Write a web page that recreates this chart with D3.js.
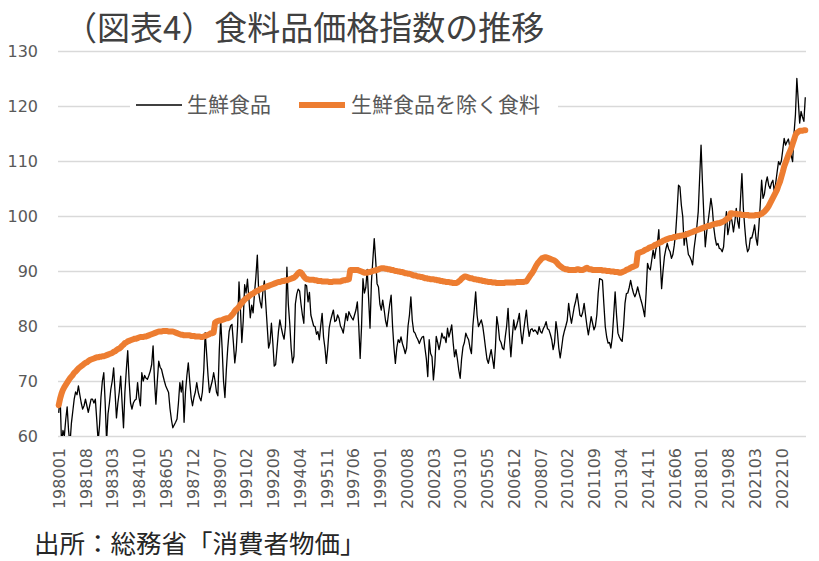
<!DOCTYPE html>
<html>
<head>
<meta charset="utf-8">
<script src="https://cdn.jsdelivr.net/npm/d3@7"></script>
<style>
  body { margin: 0; background: #fff; }
  svg { display: block; }
</style>
</head>
<body>
<svg id="chart" width="819" height="561"></svg>
<script>

// series values, one row per year (Jan..Dec), 1980-01 .. 2024-03
const freshFood = [
  64.2, 67.5, 58.5, 61, 60, 63, 65.3, 61, 58.5, 62.3, 64.5, 66.7,
  68, 67.5, 69.1, 67.5, 66, 64.9, 65.5, 66.7, 65.5, 64.3, 65.5, 66.7,
  66.7, 66, 66.7, 63, 59, 62, 67, 70, 71.5, 66, 59, 64,
  66, 68.5, 70, 72.4, 68, 63.3, 66, 68, 70.9, 66, 61.5, 68,
  72, 75.5, 70, 66, 64.9, 66, 66.5, 66.7, 69.7, 67, 65.5, 71.5,
  70, 71, 70.5, 70.3, 71, 71.8, 73, 76.4, 70, 65.8, 70, 73.6,
  72.5, 72.1, 71, 70, 69.1, 68.5, 67.9, 65, 63, 61.5, 62, 62.5,
  63.1, 66, 69.7, 68, 70, 62.5, 68, 71, 73.3, 70, 67, 65.5,
  67, 68, 69.7, 68, 67, 66.4, 68, 72, 78.8, 75, 71, 67.9,
  69, 70, 71.5, 70, 68, 67.3, 75.6, 81.2, 76, 70, 67, 72,
  76, 79, 80, 80.3, 77, 73.3, 75.6, 80, 88, 83, 77, 81,
  87.5, 86, 88.5, 85, 81.5, 83.8, 82.4, 86, 89, 92.9, 86, 84.4,
  83.3, 86.5, 88.2, 84, 80, 76, 77, 80.5, 77, 72.7, 73, 76,
  79, 81.1, 79.7, 78.5, 77.6, 80, 90.7, 84, 80.5, 76, 73.3, 74.5,
  84, 85.8, 86.7, 86.4, 84, 82, 80.5, 87.5, 87.3, 84.4, 86.1, 82,
  81, 80, 79.9, 78.5, 79, 77.5, 80, 82.3, 78, 76, 73.2, 76,
  79.6, 81, 82, 82.9, 80.8, 81, 82, 81.4, 80, 79.5, 78.7, 80.5,
  82.3, 81, 82.6, 82, 81.5, 81.1, 82, 82.9, 84.4, 80, 74.1, 80,
  88.6, 86, 87, 90.3, 85, 79.6, 88, 92, 95.9, 92, 87.7, 87.1,
  84, 82.9, 84.7, 83, 81, 79.9, 82, 84, 85.6, 80, 76, 73.2,
  76, 77.5, 77, 78, 76.8, 76, 75, 76, 80, 82, 85.3, 81,
  79, 78.7, 78, 77.5, 76.8, 77.5, 78, 78.1, 76, 74, 70.8, 77.5,
  75, 74.4, 70.2, 73, 78.1, 77, 75.7, 77, 78.7, 77.8, 78, 77,
  79.6, 78, 79, 80.2, 77, 74.4, 75.7, 74, 72, 70.5, 74, 76.2,
  77, 78.7, 78, 77.5, 76, 75, 80, 83, 86.2, 82, 79.9, 80.5,
  81.1, 80, 78.1, 76, 74, 73.2, 74.5, 75.7, 74, 72.3, 76, 81.7,
  80, 77.5, 77, 76, 75.7, 78, 80, 83.2, 78, 74.4, 78, 81.1,
  79.3, 80, 81, 82.3, 79, 76.8, 79, 81, 82.9, 80, 78.1, 79.3,
  79.5, 79, 79.3, 79, 78.5, 79.9, 79, 78.7, 79.5, 80, 80.8, 79.5,
  79.3, 78.5, 77.5, 75.7, 77, 80.8, 79, 76, 74.2, 76, 78, 79.1,
  80, 81, 84.1, 82, 80.5, 82, 83.5, 84.5, 85.9, 84, 82, 81.7,
  82.5, 84.1, 82, 80, 78.4, 80, 81.7, 80.5, 79.3, 80, 82, 86,
  88.6, 88.5, 88.3, 84, 79.9, 78, 76.9, 77, 76, 78, 82, 86.2,
  82, 78.7, 78, 77.5, 77.2, 80, 84.1, 85.9, 86, 87, 88.3, 87,
  86, 85.3, 86, 87.1, 86, 85, 84.1, 83, 81.7, 86, 91.4, 90.5,
  90.2, 92, 93.8, 92.3, 94, 95, 97.5, 92, 86.8, 90, 92.6, 94,
  95, 94, 93.5, 92.3, 93, 94.7, 97, 101, 105.6, 105.3, 102, 99.9,
  94.7, 97.1, 95, 93, 92.6, 92, 91.1, 94, 96, 98, 100.8, 106.9,
  112.9, 106, 100, 94.4, 97.1, 99, 101, 103.2, 101.4, 98, 96, 94.7,
  95, 94.1, 94, 93.5, 94.4, 98, 100.8, 96.6, 98, 100.2, 99, 97.1,
  99, 101.4, 99, 97.8, 103, 107.7, 101.4, 98, 95, 93.5, 94, 96,
  96, 97, 98.4, 96, 94.7, 98, 102, 106.5, 103.2, 104, 106, 107.1,
  105.6, 105, 106, 106.5, 104.4, 106, 108, 109.9, 109.3, 110, 112, 114.1,
  112.9, 113.5, 114, 112.6, 111, 109.9, 115, 118.4, 125, 121, 116.9, 119,
  118, 117.2, 121.6
];

const foodExFresh = [
  65.6, 66.8, 67.7, 68.4, 68.9, 69.3, 69.7, 70.1, 70.5, 70.8, 71.1, 71.5,
  71.7, 72.0, 72.3, 72.5, 72.7, 72.9, 73.1, 73.3, 73.4, 73.6, 73.8, 73.9,
  74.0, 74.1, 74.2, 74.3, 74.3, 74.4, 74.4, 74.5, 74.5, 74.6, 74.7, 74.8,
  74.9, 75.0, 75.1, 75.3, 75.4, 75.6, 75.8, 75.9, 76.1, 76.4, 76.6, 76.9,
  77.0, 77.2, 77.3, 77.4, 77.5, 77.6, 77.7, 77.7, 77.8, 77.9, 78.0, 78.0,
  78.0, 78.1, 78.1, 78.2, 78.3, 78.4, 78.5, 78.6, 78.7, 78.8, 78.9, 79.0,
  79.0, 79.0, 79.1, 79.1, 79.1, 79.1, 79.0, 79.0, 79.0, 79.0, 78.9, 78.8,
  78.7, 78.6, 78.5, 78.4, 78.4, 78.3, 78.3, 78.3, 78.3, 78.3, 78.2, 78.2,
  78.2, 78.1, 78.1, 78.1, 78.1, 78.0, 78.0, 78.1, 78.2, 78.3, 78.4, 78.5,
  78.7, 78.7, 78.8, 80.6, 80.8, 80.9, 81.0, 81.0, 81.1, 81.2, 81.3, 81.4,
  81.4, 81.5, 81.7, 82.0, 82.3, 82.7, 83.0, 83.2, 83.5, 83.9, 84.2, 84.5,
  84.8, 85.0, 85.2, 85.4, 85.6, 85.8, 85.9, 86.1, 86.3, 86.4, 86.5, 86.7,
  86.8, 86.9, 87.0, 87.1, 87.2, 87.3, 87.4, 87.5, 87.6, 87.7, 87.8, 87.9,
  88.0, 88.0, 88.1, 88.2, 88.2, 88.3, 88.3, 88.4, 88.5, 88.6, 88.7, 88.8,
  89.0, 89.3, 89.6, 89.8, 89.7, 89.4, 89.0, 88.7, 88.5, 88.5, 88.4, 88.4,
  88.4, 88.4, 88.3, 88.3, 88.2, 88.2, 88.2, 88.1, 88.1, 88.1, 88.1, 88.1,
  88.0, 88.0, 88.0, 88.1, 88.1, 88.1, 88.1, 88.1, 88.1, 88.2, 88.3, 88.3,
  88.4, 88.4, 88.5, 90.2, 90.2, 90.2, 90.2, 90.2, 90.2, 90.1, 90.0, 89.9,
  89.8, 89.7, 89.7, 89.7, 89.8, 89.8, 89.9, 90.0, 90.1, 90.1, 90.2, 90.3,
  90.4, 90.5, 90.5, 90.5, 90.4, 90.4, 90.3, 90.3, 90.2, 90.2, 90.1, 90.0,
  90.0, 89.9, 89.9, 89.8, 89.8, 89.7, 89.6, 89.6, 89.5, 89.5, 89.4, 89.3,
  89.2, 89.2, 89.1, 89.0, 89.0, 88.9, 88.9, 88.8, 88.7, 88.7, 88.6, 88.6,
  88.5, 88.5, 88.5, 88.4, 88.4, 88.3, 88.3, 88.2, 88.2, 88.1, 88.1, 88.0,
  88.0, 88.0, 87.9, 87.9, 87.8, 87.8, 87.8, 87.9, 88.1, 88.3, 88.6, 88.8,
  89.0, 89.0, 88.9, 88.8, 88.7, 88.7, 88.6, 88.5, 88.5, 88.4, 88.4, 88.3,
  88.3, 88.2, 88.2, 88.1, 88.1, 88.0, 88.0, 88.0, 87.9, 87.9, 87.9, 87.8,
  87.8, 87.8, 87.8, 87.8, 87.8, 87.9, 87.9, 87.9, 87.9, 87.9, 87.9, 87.9,
  87.9, 88.0, 88.0, 88.0, 88.0, 88.0, 88.0, 88.1, 88.1, 88.5, 88.9, 89.3,
  89.6, 90.0, 90.5, 91.0, 91.4, 91.7, 92.0, 92.3, 92.4, 92.5, 92.5, 92.4,
  92.3, 92.2, 92.1, 92.0, 91.9, 91.7, 91.4, 91.1, 90.9, 90.7, 90.5, 90.4,
  90.3, 90.3, 90.2, 90.2, 90.2, 90.2, 90.2, 90.2, 90.3, 90.3, 90.2, 90.2,
  90.2, 90.3, 90.5, 90.6, 90.4, 90.3, 90.3, 90.2, 90.2, 90.2, 90.2, 90.2,
  90.2, 90.2, 90.1, 90.1, 90.1, 90.0, 90.0, 90.0, 89.9, 89.9, 89.9, 89.8,
  89.8, 89.8, 89.7, 89.7, 89.8, 89.9, 90.0, 90.2, 90.3, 90.4, 90.6, 90.7,
  90.8, 90.9, 91.0, 93.2, 93.3, 93.4, 93.5, 93.6, 93.8, 93.9, 94.0, 94.2,
  94.3, 94.4, 94.5, 94.7, 94.8, 94.9, 95.1, 95.2, 95.3, 95.5, 95.6, 95.7,
  95.8, 95.9, 96.0, 96.0, 96.1, 96.2, 96.2, 96.3, 96.3, 96.4, 96.4, 96.5,
  96.5, 96.6, 96.7, 96.8, 96.9, 97.0, 97.1, 97.2, 97.3, 97.4, 97.5, 97.6,
  97.7, 97.8, 97.9, 98.0, 98.1, 98.2, 98.2, 98.3, 98.4, 98.5, 98.6, 98.6,
  98.7, 98.7, 98.8, 98.9, 99.0, 99.2, 99.4, 99.6, 99.7, 100.5, 100.5, 100.4,
  100.4, 100.4, 100.3, 100.3, 100.3, 100.2, 100.2, 100.2, 100.2, 100.2, 100.1, 100.1,
  100.1, 100.1, 100.1, 100.2, 100.2, 100.2, 100.3, 100.4, 100.6, 100.8, 101.1, 101.4,
  101.8, 102.3, 102.8, 103.3, 103.8, 104.3, 104.8, 105.6, 106.2, 107.1, 108.0, 109.0,
  109.7, 110.4, 111.1, 111.7, 112.3, 113.1, 113.9, 114.7, 115.1, 115.3, 115.5, 115.5,
  115.5, 115.6, 115.6
];

const tickLabels = [
  '198001', '198108', '198303', '198410', '198605', '198712', '198907',
  '199102', '199209', '199404', '199511', '199706', '199901', '200008',
  '200203', '200310', '200505', '200612', '200807', '201002', '201109',
  '201304', '201411', '201606', '201801', '201908', '202103', '202210'
];

const yTicks = [60, 70, 80, 90, 100, 110, 120, 130];

const seriesNames = ['生鮮食品', '生鮮食品を除く食料'];

// category list yyyymm, one per value
const months = freshFood.map(function(d, i){
    let yr = 1980 + Math.floor(i / 12);
    let m = (i % 12) + 1;
    return '' + yr + (m < 10 ? '0' + m : m);
});

//#region layout
const plotLeft = 58, plotRight = 806, plotTop = 51, plotBottom = 436;
const gridColor = '#d9d9d9';
const textColor = '#595959';
//#endregion

const svg = d3.select('#chart');

svg.append('rect').attr('width', 819).attr('height', 561).attr('fill', '#fff');

const x = d3.scalePoint().domain(months).range([plotLeft, plotRight]).padding(0.5);
const y = d3.scaleLinear().domain([60, 130]).range([plotBottom, plotTop]);

// gridlines + y labels
const yAxis = svg.append('g')
    .attr('transform', `translate(${plotLeft},0)`)
    .call(d3.axisLeft(y).tickValues(yTicks).tickSize(-(plotRight - plotLeft)).tickPadding(20));
yAxis.select('.domain').remove();
yAxis.selectAll('line').attr('stroke', gridColor).attr('stroke-width', 1.3);
yAxis.selectAll('text')
    .attr('fill', textColor)
    .attr('font-family', 'DejaVu Sans, sans-serif')
    .attr('font-size', '16px');

// x axis (category labels rotated)
const xAxis = svg.append('g')
    .attr('transform', `translate(0,${plotBottom})`)
    .call(d3.axisBottom(x).tickValues(tickLabels).tickSize(0));
xAxis.select('.domain').remove();
xAxis.selectAll('text')
    .attr('transform', 'rotate(-90)')
    .attr('text-anchor', 'end')
    .attr('x', -12)
    .attr('y', 0)
    .attr('dy', '0.36em')
    .attr('fill', textColor)
    .attr('font-family', 'DejaVu Sans, sans-serif')
    .attr('font-size', '16px');

// clip to plot area
svg.append('clipPath').attr('id', 'plotClip')
    .append('rect')
    .attr('x', plotLeft - 5).attr('y', 0)
    .attr('width', plotRight - plotLeft + 10).attr('height', plotBottom);

const line = d3.line()
    .x(function(d, i){ return x(months[i]); })
    .y(function(d){ return y(d); });

svg.append('path')
    .datum(freshFood)
    .attr('clip-path', 'url(#plotClip)')
    .attr('fill', 'none')
    .attr('stroke', '#000')
    .attr('stroke-width', 1.3)
    .attr('stroke-linejoin', 'round')
    .attr('d', line);

svg.append('path')
    .datum(foodExFresh)
    .attr('clip-path', 'url(#plotClip)')
    .attr('fill', 'none')
    .attr('stroke', '#ED7D31')
    .attr('stroke-width', 6)
    .attr('stroke-linejoin', 'round')
    .attr('stroke-linecap', 'round')
    .attr('d', line);

// legend
const legend = svg.append('g');
legend.append('rect')
    .attr('x', 130).attr('y', 92).attr('width', 428).attr('height', 28)
    .attr('fill', '#fff');
legend.append('line')
    .attr('x1', 136).attr('x2', 182).attr('y1', 105).attr('y2', 105)
    .attr('stroke', '#000').attr('stroke-width', 1.3);
legend.append('text')
    .attr('x', 187).attr('y', 105).attr('dy', '0.35em')
    .attr('fill', textColor)
    .attr('font-family', 'Noto Sans CJK JP, sans-serif')
    .attr('font-size', '21px')
    .text(seriesNames[0]);
legend.append('line')
    .attr('x1', 299).attr('x2', 345).attr('y1', 105).attr('y2', 105)
    .attr('stroke', '#ED7D31').attr('stroke-width', 6);
legend.append('text')
    .attr('x', 351).attr('y', 105).attr('dy', '0.35em')
    .attr('fill', textColor)
    .attr('font-family', 'Noto Sans CJK JP, sans-serif')
    .attr('font-size', '21px')
    .text(seriesNames[1]);

// title
svg.append('text')
    .attr('x', 64).attr('y', 40)
    .attr('fill', '#404040')
    .attr('font-family', 'Noto Sans CJK JP, sans-serif')
    .attr('font-size', '33px')
    .text('（図表4）食料品価格指数の推移');

// source note
svg.append('text')
    .attr('x', 34).attr('y', 553)
    .attr('fill', '#262626')
    .attr('font-family', 'Noto Sans CJK JP, sans-serif')
    .attr('font-size', '25.5px')
    .text('出所：総務省「消費者物価」');

</script>
</body>
</html>
